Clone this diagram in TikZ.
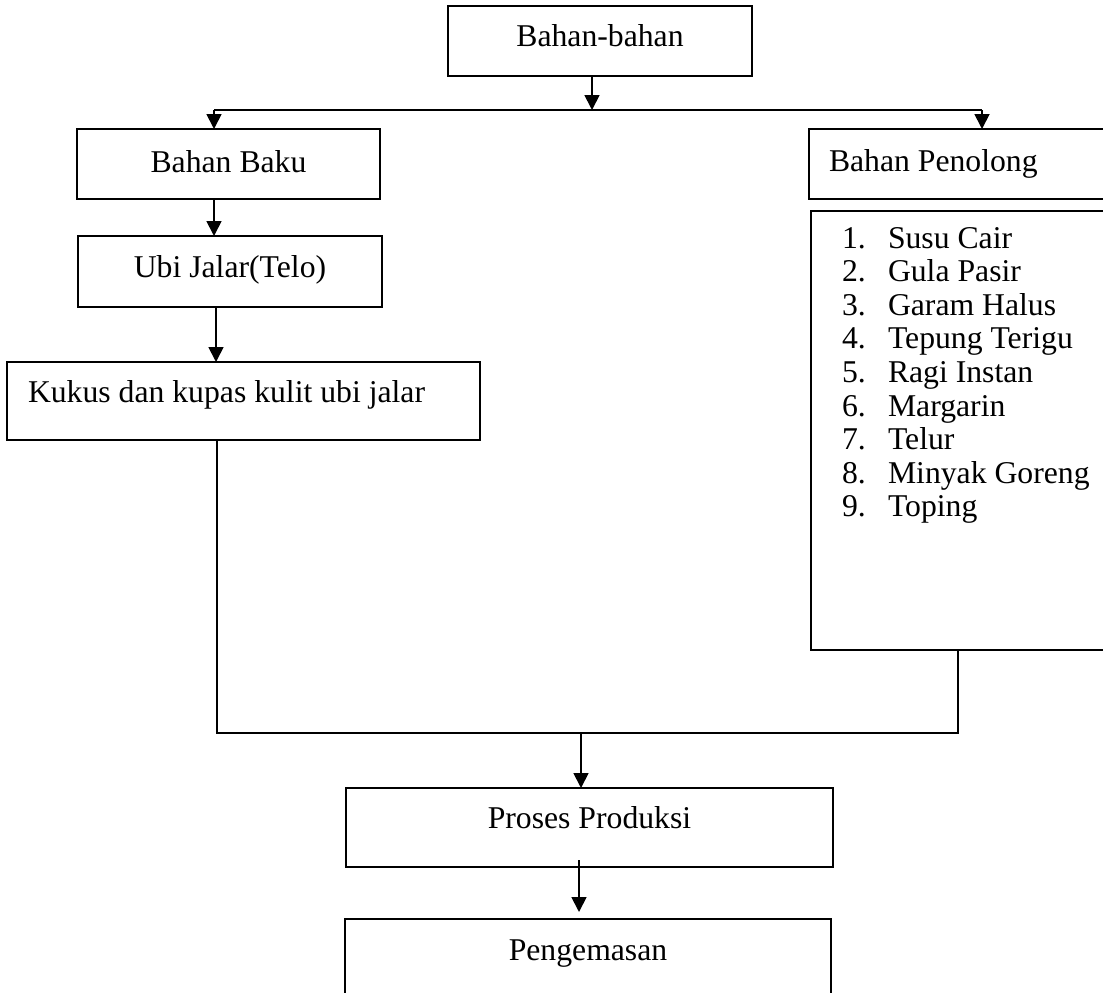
\documentclass[tikz,border=0pt]{standalone}
\usepackage{fontspec}
\setmainfont{Liberation Serif}
\usetikzlibrary{arrows.meta}
\tikzset{
  box/.style={draw=black, line width=1.8pt, inner sep=0pt, outer sep=0pt, anchor=north west,
    font=\fontsize{31.7}{33.8}\selectfont},
  txt/.style={inner sep=0pt, outer sep=0pt, font=\fontsize{31.7}{33.8}\selectfont},
  conn/.style={draw=black, line width=1.8pt},
  arr/.style={conn, -{Triangle[length=15pt,width=15pt]}}
}
\begin{document}
\begin{tikzpicture}[x=1pt, y=-1pt]
\useasboundingbox (0,0) rectangle (1103,993);
\fill[white] (0,0) rectangle (1103,993);
\clip (0,0) rectangle (1103,993);

% boxes
\node[box, minimum width=304pt, text height=40pt, text depth=30pt] (top) at (448,6) {Bahan-bahan};
\node[box, minimum width=303pt, text height=43pt, text depth=27pt] (bb) at (77,129) {Bahan Baku};
\node[box, minimum width=304pt, text height=41pt, text depth=30pt] (ubi) at (78,236) {Ubi Jalar(Telo)};
\node[box, inner xsep=21pt, text height=40pt, text depth=38pt] (kk) at (7,362) {\makebox[431pt][l]{Kukus dan kupas kulit ubi jalar}};
\node[box, inner xsep=20pt, text height=42pt, text depth=28pt] (bp) at (809,129) {\makebox[301pt][l]{Bahan Penolong}};
\node[box, minimum width=340pt, minimum height=439pt] (list) at (811,211) {};
\foreach \n/\t [count=\i] in {1/Susu Cair,2/Gula Pasir,3/Garam Halus,4/Tepung Terigu,5/Ragi Instan,6/Margarin,7/Telur,8/Minyak Goreng,9/Toping}{
  \node[txt, anchor=base west] (item\i) at (842,{248+33.6*(\i-1)}) {\makebox[46pt][l]{\n.}\t};
}
\node[box, minimum width=487pt, text height=40pt, text depth=39pt] (pp) at (346,788) {Proses Produksi};
\node[box, minimum width=486pt, text height=41pt, text depth=40pt] (pg) at (345,919) {Pengemasan};

% helper coordinates
\coordinate (j1) at (592,110);
\coordinate (lb) at (214,110);
\coordinate (rb) at (982,110);
\coordinate (xu) at (216,0);
\coordinate (xk) at (217,733);
\coordinate (xr) at (958,733);
\coordinate (jm) at (581,733);
\coordinate (xp) at (579,0);

% connectors
\draw[arr] (j1 |- top.south) -- (j1);
\draw[conn] (lb) -- (rb);
\draw[arr] (lb) -- (lb |- bb.north);
\draw[arr] (rb) -- (rb |- bp.north);
\draw[arr] (lb |- bb.south) -- (lb |- ubi.north);
\draw[arr] (xu |- ubi.south) -- (xu |- kk.north);
\draw[conn] (xk |- kk.south) -- (xk) -- (xr) -- (xr |- list.south);
\draw[arr] (jm) -- (jm |- pp.north);
\draw[arr, shorten <=-7pt, shorten >=7pt] (xp |- pp.south) -- (xp |- pg.north);
\end{tikzpicture}
\end{document}
